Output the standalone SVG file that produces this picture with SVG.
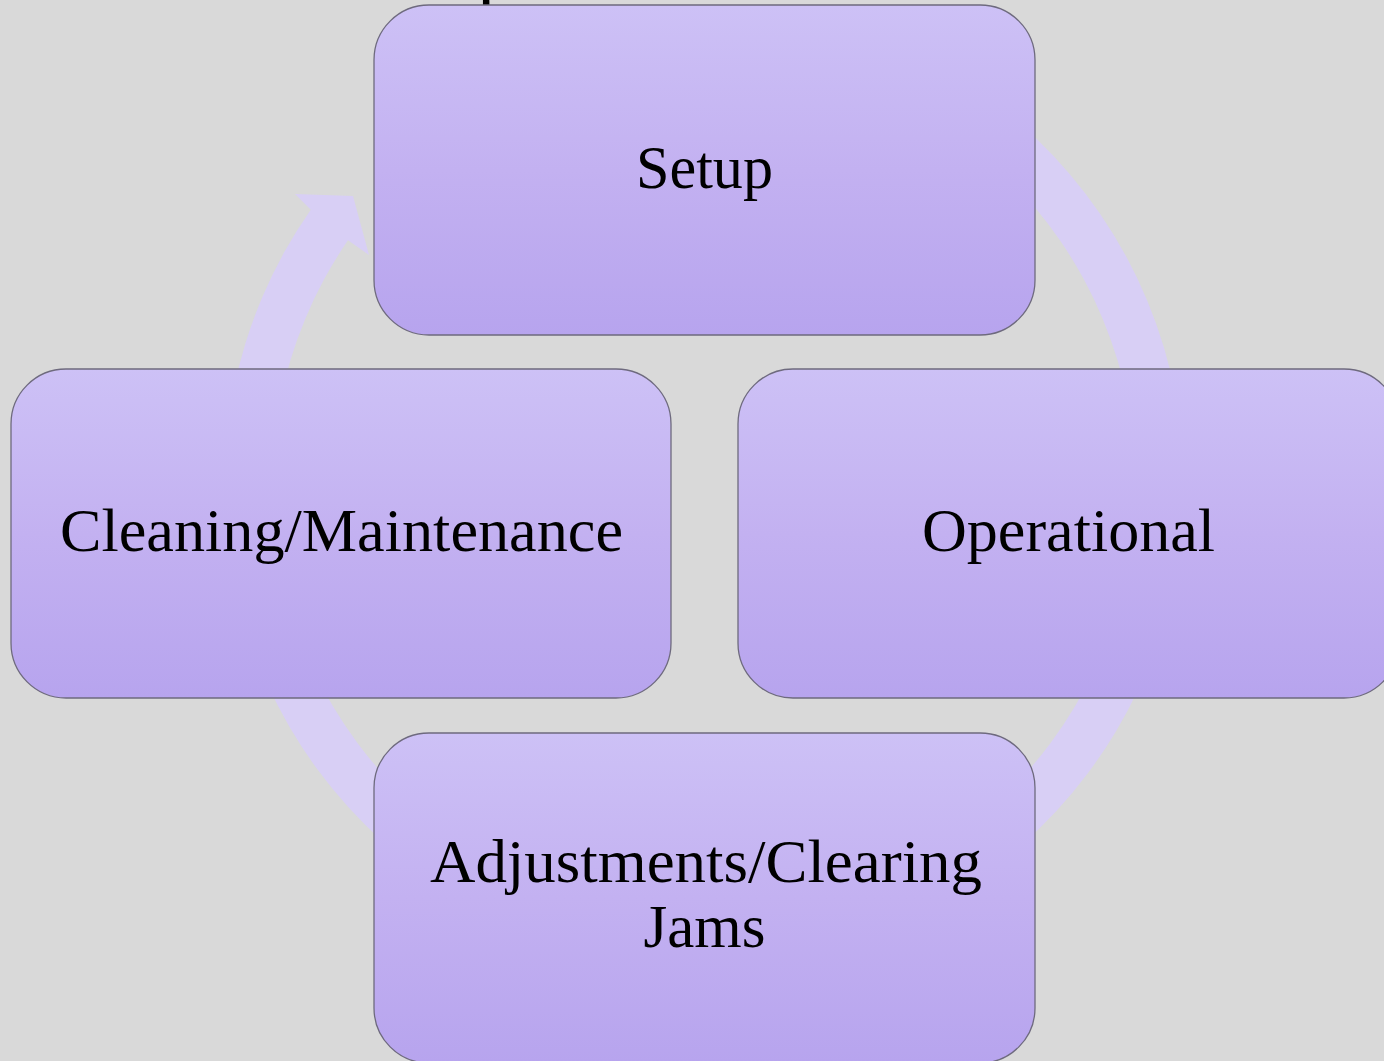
<svg xmlns="http://www.w3.org/2000/svg" width="1384" height="1061" viewBox="0 0 1384 1061">
  <defs>
    <linearGradient id="boxGrad" x1="0" y1="0" x2="0" y2="1">
      <stop offset="0" stop-color="#cdc1f6"/>
      <stop offset="0.5" stop-color="#c3b1f1"/>
      <stop offset="1" stop-color="#b7a4ee"/>
    </linearGradient>
    <style>
      .box { fill: url(#boxGrad); stroke: #6e6a7e; stroke-width: 1.3; }
      .lbl { font-family: "Liberation Serif", "Times New Roman", serif; font-size: 62px; fill: #000; text-anchor: middle; }
      .ring { fill: #d8cff5; stroke: none; }
    </style>
  </defs>
  <rect width="1384" height="1061" fill="#d9d9d9"/>
  <text x="497" y="-2" font-family="Liberation Serif, serif" font-size="80" fill="#000" text-anchor="middle">p</text>
  <g id="connectors">
    <path class="ring" d="M 868.2 33.9 A 480 480 0 1 1 310.8 209.7 L 295 194 L 353 196 L 369 255 L 348 240.3 A 432 432 0 1 0 851.7 79.1 Z"/>
  </g>
  <g id="setup">
    <rect class="box" x="374" y="5" width="661" height="330" rx="55" ry="55"/>
    <text class="lbl" x="704.5" y="188" textLength="137" lengthAdjust="spacingAndGlyphs">Setup</text>
  </g>
  <g id="operational">
    <rect class="box" x="738" y="369" width="661" height="329" rx="55" ry="55"/>
    <text class="lbl" x="1068.5" y="551" textLength="293" lengthAdjust="spacingAndGlyphs">Operational</text>
  </g>
  <g id="adjustments">
    <rect class="box" x="374" y="733" width="661" height="330" rx="55" ry="55"/>
    <text class="lbl" x="706" y="882" textLength="552" lengthAdjust="spacingAndGlyphs">Adjustments/Clearing</text>
    <text class="lbl" x="704.5" y="947" textLength="122" lengthAdjust="spacingAndGlyphs">Jams</text>
  </g>
  <g id="cleaning">
    <rect class="box" x="11" y="369" width="660" height="329" rx="55" ry="55"/>
    <text class="lbl" x="341.5" y="551" textLength="563" lengthAdjust="spacingAndGlyphs">Cleaning/Maintenance</text>
  </g>
</svg>
